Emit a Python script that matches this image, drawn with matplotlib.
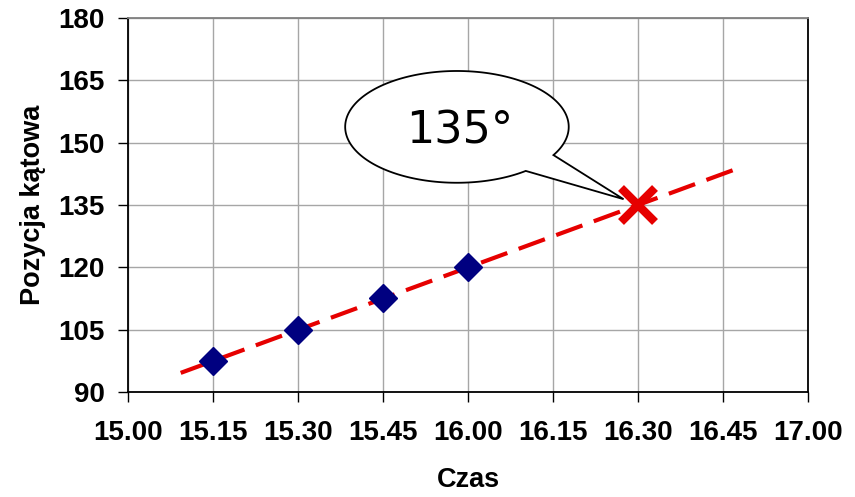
import numpy as np
import matplotlib
matplotlib.use("Agg")
import matplotlib.pyplot as plt
from matplotlib.path import Path
from matplotlib.patches import PathPatch

# ---- data ----
time_labels = ["15.00", "15.15", "15.30", "15.45", "16.00", "16.15", "16.30", "16.45", "17.00"]
y_ticks = [90, 105, 120, 135, 150, 165, 180]
meas_x = [1, 2, 3, 4]            # index into time_labels
meas_y = [97.5, 105, 112.5, 120]
pred_x = [6]
pred_y = [135]
trend_x = [0.62, 7.24]
trend_y = [94.6, 144.3]
callout_text = "135°"

fig = plt.figure(figsize=(8.55, 4.97), dpi=100)
ax = fig.add_axes([128/855, 1-392/497, (808-128)/855, (392-18)/497])

ax.set_xlim(0, 8)
ax.set_ylim(90, 180)
ax.set_xticks(range(len(time_labels)))
ax.set_xticklabels(time_labels)
ax.set_yticks(y_ticks)

ax.grid(True, color="#a6a6a6", linewidth=1.0)
ax.set_axisbelow(True)

for s in ["left", "bottom", "right"]:
    ax.spines[s].set_color("black")
    ax.spines[s].set_linewidth(1.3)
ax.spines["top"].set_color("#808080")
ax.spines["top"].set_linewidth(1.3)

for lab in ax.get_xticklabels() + ax.get_yticklabels():
    lab.set_fontfamily("Liberation Sans")
    lab.set_fontweight("bold")
    lab.set_fontsize(20)
ax.tick_params(axis="both", direction="out", length=7, width=1.0, color="black")
ax.tick_params(axis="y", pad=10)
ax.tick_params(axis="x", pad=13)

ax.set_xlabel("Czas", fontfamily="Liberation Sans", fontweight="bold", fontsize=19.5, labelpad=15)
ax.set_ylabel("Pozycja kątowa", fontfamily="Liberation Sans", fontweight="bold", fontsize=19.5, labelpad=9)

# trend line
ax.plot(trend_x, trend_y, color="#e60000", linewidth=3, dashes=(6.7, 2.9), zorder=3,
        dash_capstyle="butt")
# measured points
ax.plot(meas_x, meas_y, linestyle="none", marker="D", markersize=14, color="#000080", zorder=4)
# predicted point
ax.plot(pred_x, pred_y, linestyle="none", marker="x", markersize=25, markeredgewidth=6, color="#e60000", zorder=5)

# callout (ellipse with tail)
cx, cy = 3.87, 153.8
rx, ry = 1.315, 13.45
a1, a2 = np.deg2rad(-30.3), np.deg2rad(360 - 52)
t = np.linspace(a1, a2, 200)
pts = np.column_stack([cx + rx*np.cos(t), cy + ry*np.sin(t)])
tip = np.array([[5.83, 136.4]])
verts = np.vstack([pts, tip, pts[:1]])
codes = [Path.MOVETO] + [Path.LINETO]*(len(verts)-2) + [Path.CLOSEPOLY]
patch = PathPatch(Path(verts, codes), facecolor="white", edgecolor="black", linewidth=1.3, zorder=6)
ax.add_patch(patch)
ax.text(cx + 0.03, cy - 0.9, callout_text, fontfamily="DejaVu Sans", fontsize=32,
        ha="center", va="center", zorder=7)

fig.savefig("out.png", dpi=100)
